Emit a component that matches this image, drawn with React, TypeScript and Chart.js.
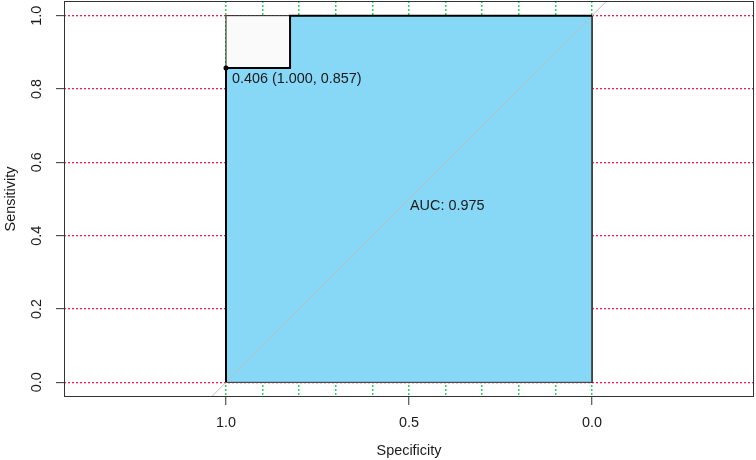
import React, { useEffect, useRef } from "react";
import { Chart, registerables } from "chart.js";

Chart.register(...registerables);

// ROC curve vertices (specificity, sensitivity)
const rocSpecificity = [1.0, 1.0, 0.825, 0.825, 0.0];
const rocSensitivity = [0.0, 0.857, 0.857, 1.0, 1.0];

// best threshold point
const bestThreshold = 0.406;
const bestSpecificity = 1.0;
const bestSensitivity = 0.857;

const aucValue = 0.975;

// axes
const xTickLabels = [1.0, 0.5, 0.0];
const xGridValues = [0.0, 0.1, 0.2, 0.3, 0.4, 0.5, 0.6, 0.7, 0.8, 0.9, 1.0];
const yTickLabels = [0.0, 0.2, 0.4, 0.6, 0.8, 1.0];
const xTitle = "Specificity";
const yTitle = "Sensitivity";

const FONT = '14.4px "Liberation Sans", Arial, sans-serif';
const TEXT = "#1a1a1a";

const pts = (xs: number[], ys: number[]) => xs.map((x, i) => ({ x, y: ys[i] }));

export default function App() {
  const ref = useRef<HTMLCanvasElement | null>(null);

  useEffect(() => {
    if (!ref.current) return;

    const decor = {
      id: "decor",
      afterDraw(chart: any) {
        const { ctx, chartArea: a } = chart;
        const xs = chart.scales.x;
        const ys = chart.scales.y;
        ctx.save();
        // plot box
        ctx.strokeStyle = "#333";
        ctx.lineWidth = 1;
        ctx.strokeRect(a.left + 0.5, a.top + 0.5, a.right - a.left - 1, a.bottom - a.top - 1);

        ctx.fillStyle = TEXT;
        ctx.font = FONT;
        // x tick labels
        ctx.textAlign = "center";
        ctx.textBaseline = "middle";
        xTickLabels.forEach((v) => {
          ctx.fillText(v.toFixed(1), xs.getPixelForValue(v), 423);
        });
        // x title
        ctx.textBaseline = "alphabetic";
        ctx.fillText(xTitle, (a.left + a.right) / 2, 455);
        // y tick labels (rotated)
        yTickLabels.forEach((v) => {
          ctx.save();
          ctx.translate(37.5, ys.getPixelForValue(v));
          ctx.rotate(-Math.PI / 2);
          ctx.textAlign = "center";
          ctx.textBaseline = "middle";
          ctx.fillText(v.toFixed(1), 0, 0);
          ctx.restore();
        });
        // y title
        ctx.save();
        ctx.translate(11, (a.top + a.bottom) / 2);
        ctx.rotate(-Math.PI / 2);
        ctx.textAlign = "center";
        ctx.textBaseline = "middle";
        ctx.fillText(yTitle, 0, 0);
        ctx.restore();

        // threshold label
        ctx.textAlign = "left";
        ctx.textBaseline = "middle";
        const px = xs.getPixelForValue(bestSpecificity);
        const py = ys.getPixelForValue(bestSensitivity);
        ctx.fillText(
          `${bestThreshold.toFixed(3)} (${bestSpecificity.toFixed(3)}, ${bestSensitivity.toFixed(3)})`,
          px + 6,
          py + 10.5
        );
        // AUC label
        ctx.fillText(`AUC: ${aucValue.toFixed(3)}`, xs.getPixelForValue(0.5) + 1, ys.getPixelForValue(0.5) + 7);
        ctx.restore();
      },
    };

    const chart = new Chart(ref.current, {
      type: "scatter",
      data: {
        datasets: [
          {
            // max AUC square fill
            data: [
              { x: 1, y: 1 },
              { x: 0, y: 1 },
            ],
            showLine: true,
            fill: "origin",
            backgroundColor: "#FAFAFA",
            borderWidth: 0,
            pointRadius: 0,
            order: 7,
          },
          {
            // square border
            data: [
              { x: 1, y: 0 },
              { x: 1, y: 1 },
              { x: 0, y: 1 },
              { x: 0, y: 0 },
              { x: 1, y: 0 },
            ],
            showLine: true,
            fill: false,
            borderColor: "#222",
            borderWidth: 1,
            pointRadius: 0,
            order: 6,
          },
          {
            // AUC polygon fill
            data: pts(rocSpecificity, rocSensitivity),
            showLine: true,
            fill: "origin",
            backgroundColor: "#87D7F7",
            borderWidth: 0,
            pointRadius: 0,
            order: 5,
          },
          {
            // AUC polygon border
            data: [
              { x: 0, y: 1 },
              { x: 0, y: 0 },
              { x: 1, y: 0 },
            ],
            showLine: true,
            fill: false,
            borderColor: "#444",
            borderWidth: 1,
            pointRadius: 0,
            order: 4,
          },
          {
            // identity line
            data: [
              { x: 1.5, y: -0.5 },
              { x: -0.5, y: 1.5 },
            ],
            showLine: true,
            fill: false,
            borderColor: "#BEBEBE",
            borderWidth: 1,
            pointRadius: 0,
            order: 3,
          },
          {
            // ROC curve
            data: pts(rocSpecificity, rocSensitivity),
            showLine: true,
            fill: false,
            borderColor: "#000",
            borderWidth: 2,
            pointRadius: 0,
            order: 2,
          },
          {
            // best threshold point
            data: [{ x: bestSpecificity, y: bestSensitivity }],
            showLine: false,
            pointRadius: 2.5,
            pointBackgroundColor: "#000",
            pointBorderColor: "#000",
            pointBorderWidth: 0,
            order: 1,
          },
        ],
      },
      options: {
        animation: false,
        responsive: false,
        devicePixelRatio: 1,
        events: [],
        layout: { autoPadding: false, padding: { left: 0, right: 2, top: 1, bottom: 0 } },
        plugins: { legend: { display: false }, tooltip: { enabled: false } },
        scales: {
          x: {
            type: "linear",
            position: "bottom",
            reverse: true,
            min: -0.4426,
            max: 1.4426,
            afterBuildTicks: (s: any) => {
              s.ticks = xGridValues.map((v) => ({ value: v }));
            },
            afterFit: (s: any) => {
              s.height = 63;
            },
            ticks: { display: false },
            grid: {
              color: "#2ED063",
              lineWidth: 1.5,
              drawTicks: true,
              tickLength: 8,
              tickWidth: 1,
              tickBorderDash: [],
              tickColor: (c: any) =>
                xTickLabels.some((v) => Math.abs(v - c.tick.value) < 1e-6) ? "#333" : "rgba(0,0,0,0)",
            } as any,
            border: { display: false, dash: [2, 2] },
          },
          y: {
            type: "linear",
            position: "left",
            min: -0.04,
            max: 1.04,
            afterBuildTicks: (s: any) => {
              s.ticks = yTickLabels.map((v) => ({ value: v }));
            },
            afterFit: (s: any) => {
              s.width = 64;
            },
            ticks: { display: false },
            grid: {
              color: "#E8204F",
              lineWidth: 1.3,
              drawTicks: true,
              tickLength: 8,
              tickWidth: 1,
              tickBorderDash: [],
              tickColor: "#333",
            } as any,
            border: { display: false, dash: [2, 2] },
          },
        },
      },
      plugins: [decor],
    } as any);

    return () => chart.destroy();
  }, []);

  return (
    <div style={{ position: "absolute", left: 0, top: 0, width: 756, height: 460, background: "#fff" }}>
      <canvas ref={ref} width={756} height={460} style={{ display: "block", width: 756, height: 460 }} />
    </div>
  );
}
